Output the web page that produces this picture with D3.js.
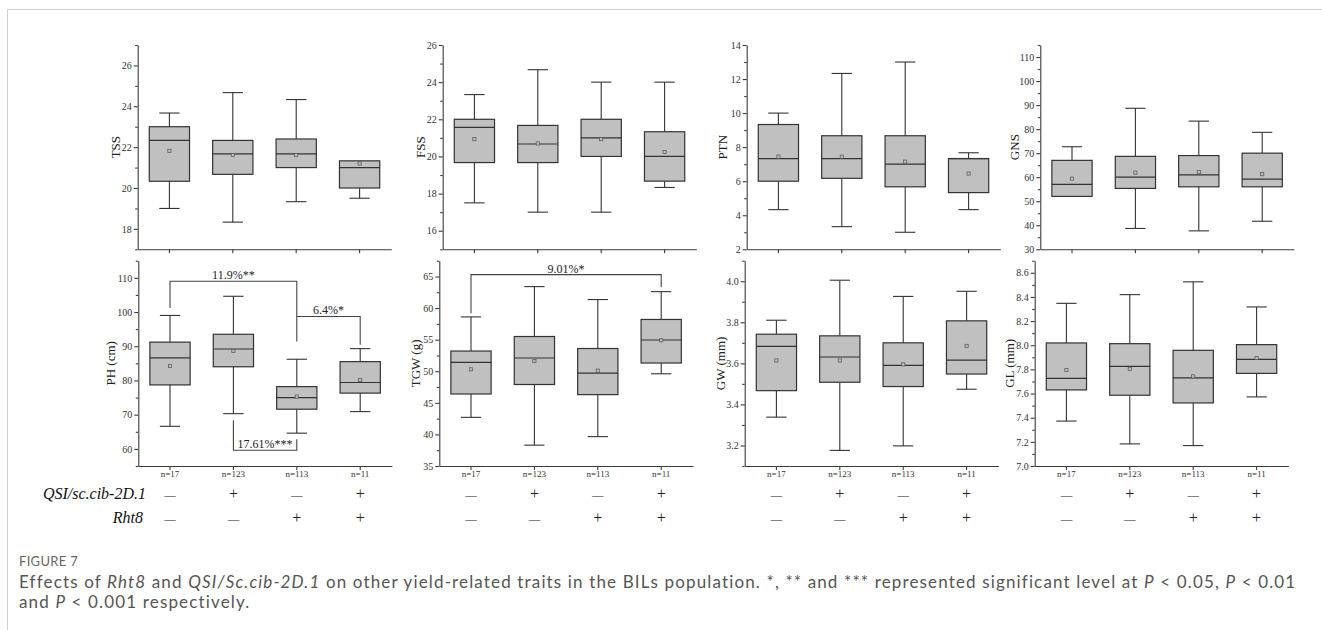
<!DOCTYPE html>
<html><head><meta charset="utf-8">
<script src="https://cdn.jsdelivr.net/npm/d3@7"></script>
<style>body{margin:0;background:#fff}</style>
</head><body>
<svg id="c" width="1322" height="630"></svg>
<script>
// ---------- DATA ----------
const groupLabels = ["n=17", "n=123", "n=113", "n=11"];
const qsiSigns = ["—", "+", "—", "+"];
const rht8Signs = ["—", "—", "+", "+"];
const traitNames = ["TSS", "FSS", "PTN", "GNS", "PH (cm)", "TGW (g)", "GW (mm)", "GL (mm)"];
// each box: [min, q1, median, q3, max, mean]
const TSS = [[19.0, 20.33, 22.33, 23.0, 23.67, 21.82], [18.33, 20.67, 21.67, 22.33, 24.67, 21.62], [19.33, 21.0, 21.67, 22.4, 24.33, 21.62], [19.5, 20.0, 21.0, 21.33, 21.33, 21.2]];
const FSS = [[17.5, 19.67, 21.57, 22.0, 23.33, 20.93], [17.0, 19.67, 20.67, 21.67, 24.67, 20.7], [17.0, 20.0, 21.0, 22.0, 24.0, 20.93], [18.33, 18.67, 20.0, 21.33, 24.0, 20.24]];
const PTN = [[4.33, 6.0, 7.33, 9.33, 10.0, 7.44], [3.33, 6.17, 7.33, 8.67, 12.33, 7.44], [3.0, 5.67, 7.0, 8.67, 13.0, 7.15], [4.33, 5.33, 7.33, 7.33, 7.67, 6.45]];
const GNS = [[52.0, 52.0, 57.0, 67.0, 72.67, 59.4], [38.67, 55.33, 60.0, 68.67, 88.67, 61.9], [37.67, 56.0, 61.0, 69.0, 83.33, 62.1], [41.67, 56.0, 59.2, 70.0, 78.67, 61.25]];
const PH = [[66.6, 78.7, 86.6, 91.2, 99.0, 84.2], [70.3, 84.0, 89.2, 93.5, 104.6, 88.6], [64.6, 71.6, 75.0, 78.2, 86.2, 75.3], [70.9, 76.3, 79.4, 85.5, 89.3, 80.1]];
const TGW = [[42.7, 46.4, 51.4, 53.2, 58.6, 50.3], [38.3, 47.9, 52.1, 55.5, 63.4, 51.6], [39.65, 46.3, 49.7, 53.6, 61.35, 50.1], [49.6, 51.3, 54.95, 58.2, 62.6, 54.9]];
const GW = [[3.338, 3.467, 3.683, 3.742, 3.81, 3.614], [3.176, 3.508, 3.631, 3.734, 4.005, 3.614], [3.198, 3.487, 3.59, 3.70, 3.926, 3.595], [3.474, 3.548, 3.616, 3.807, 3.951, 3.685]];
const GL = [[7.372, 7.63, 7.725, 8.019, 8.347, 7.794], [7.183, 7.586, 7.825, 8.013, 8.419, 7.805], [7.169, 7.522, 7.73, 7.958, 8.525, 7.742], [7.572, 7.767, 7.883, 8.005, 8.317, 7.894]];
const yDomains = [[17, 27], [15, 26], [2, 14], [30, 115], [55, 115], [35, 67.5], [3.1, 4.1], [7.0, 8.7]];
const majorSteps = [2, 2, 2, 10, 10, 5, 0.2, 0.2];
// significance brackets: [fromGroup, toGroup, lineValue, leftEnd, rightEnd, label]
const phBrackets = [[0, 2, 109, 101.2, 91.4, "11.9%**"], [2, 3, 98.7, 98.7, 90.4, "6.4%*"], [1, 2, 59.6, 68.4, 62.8, "17.61%***"]];
const tgwBrackets = [[0, 3, 65.3, 59.2, 63.3, "9.01%*"]];
// caption segments: [text, italic]
const captionLine1 = [["Effects of ", 0], ["Rht8", 1], [" and ", 0], ["QSI/Sc.cib-2D.1", 1], [" on other yield-related traits in the BILs population. *, ** and *** represented significant level at ", 0], ["P", 1], [" < 0.05, ", 0], ["P", 1], [" < 0.01", 0]];
const captionLine2 = [["and ", 0], ["P", 1], [" < 0.001 respectively.", 0]];

// ---------- LAYOUT ----------
const allData = [TSS, FSS, PTN, GNS, PH, TGW, GW, GL];
const brackets = [null, null, null, null, phBrackets, tgwBrackets, null, null];
const axisX = [137.7, 442.7, 746.7, 1040.3, 138.3, 439.3, 744.7, 1034.7];
const titleX = [115, 420, 722.7, 1014.7, 110.7, 415, 720, 1009.5];
const rowY = [[45, 249.3], [260.7, 466]];
const plotW = 253.6;
const signY = [499, 523];

const svg = d3.select("#c");
const serif = "'Liberation Serif','Times New Roman',serif";

// frame
svg.append("line").attr("x1", 7).attr("x2", 1322).attr("y1", 9.5).attr("y2", 9.5).attr("stroke", "#d0d0d0").attr("stroke-width", 1);
svg.append("line").attr("x1", 7.5).attr("x2", 7.5).attr("y1", 9).attr("y2", 630).attr("stroke", "#d0d0d0").attr("stroke-width", 1);

allData.forEach((data, i) => {
  const row = i < 4 ? 0 : 1;
  const [top, bottom] = rowY[row];
  const x0 = axisX[i];
  const dom = yDomains[i];
  const step = majorSteps[i];
  const y = d3.scaleLinear().domain(dom).range([bottom, top]);
  const x = d3.scaleBand().domain(groupLabels).range([x0, x0 + plotW]);
  const g = svg.append("g");
  const dec = step < 1 ? 1 : 0;

  const majors = [], minors = [];
  const eps = 1e-6;
  const startM = Math.ceil((dom[0] - eps) / step) * step;
  for (let v = startM; v <= dom[1] + eps; v += step) majors.push(+v.toFixed(3));
  const ms = step / 2;
  const startm = Math.ceil((dom[0] - eps) / ms) * ms;
  for (let v = startm; v <= dom[1] + eps; v += ms) {
    const vv = +v.toFixed(3);
    if (!majors.some(m => Math.abs(m - vv) < eps)) minors.push(vv);
  }

  const yAx = g.append("g").attr("transform", `translate(${x0},0)`)
    .call(d3.axisLeft(y).tickValues(majors).tickSize(4).tickSizeOuter(0).tickPadding(2)
      .tickFormat(d => d.toFixed(dec)));
  const yMin = g.append("g").attr("transform", `translate(${x0},0)`)
    .call(d3.axisLeft(y).tickValues(minors).tickSize(2.5).tickSizeOuter(0).tickFormat(""));
  yMin.select(".domain").remove();

  const xAx = g.append("g").attr("transform", `translate(0,${bottom})`)
    .call(d3.axisBottom(x).tickSize(4).tickSizeOuter(0).tickPadding(1)
      .tickFormat(row === 1 ? (d => d) : ""));

  [yAx, yMin, xAx].forEach(a => {
    a.selectAll("path,line").attr("stroke", "#3a3a3a").attr("stroke-width", 1.1);
    a.selectAll("text").attr("fill", "#333").attr("font-family", serif).attr("font-size", 10);
  });
  xAx.selectAll("text").attr("font-size", 9);

  g.append("text").attr("transform", `translate(${titleX[i]},${(top + bottom) / 2}) rotate(-90)`)
    .attr("text-anchor", "middle").attr("dominant-baseline", "central")
    .attr("font-family", serif).attr("font-size", 13).attr("fill", "#222").text(traitNames[i]);

  const bw = x.bandwidth() * 0.635, cw = x.bandwidth() * 0.32;
  data.forEach((d, k) => {
    const cx = x(groupLabels[k]) + x.bandwidth() / 2;
    const [mn, q1, md, q3, mx, mean] = d;
    const bx = g.append("g");
    bx.append("line").attr("x1", cx).attr("x2", cx).attr("y1", y(q3)).attr("y2", y(mx)).attr("stroke", "#333").attr("stroke-width", 1.1);
    bx.append("line").attr("x1", cx).attr("x2", cx).attr("y1", y(q1)).attr("y2", y(mn)).attr("stroke", "#333").attr("stroke-width", 1.1);
    if (mx > q3) bx.append("line").attr("x1", cx - cw / 2).attr("x2", cx + cw / 2).attr("y1", y(mx)).attr("y2", y(mx)).attr("stroke", "#333").attr("stroke-width", 1.1);
    if (mn < q1) bx.append("line").attr("x1", cx - cw / 2).attr("x2", cx + cw / 2).attr("y1", y(mn)).attr("y2", y(mn)).attr("stroke", "#333").attr("stroke-width", 1.1);
    bx.append("rect").attr("x", cx - bw / 2).attr("width", bw).attr("y", y(q3)).attr("height", y(q1) - y(q3))
      .attr("fill", "#c0c0c0").attr("stroke", "#333").attr("stroke-width", 1.2);
    bx.append("line").attr("x1", cx - bw / 2).attr("x2", cx + bw / 2).attr("y1", y(md)).attr("y2", y(md)).attr("stroke", "#333").attr("stroke-width", 1.2);
    bx.append("rect").attr("x", cx - 1.6).attr("y", y(mean) - 1.6).attr("width", 3.2).attr("height", 3.2)
      .attr("fill", "#bbb").attr("stroke", "#555").attr("stroke-width", 0.7);
  });

  if (brackets[i]) {
    brackets[i].forEach(b => {
      const [a, c, lv, le, re, lab] = b;
      const xa = x(groupLabels[a]) + x.bandwidth() / 2, xc = x(groupLabels[c]) + x.bandwidth() / 2;
      const path = d3.path();
      path.moveTo(xa, y(le)); path.lineTo(xa, y(lv)); path.lineTo(xc, y(lv)); path.lineTo(xc, y(re));
      g.append("path").attr("d", path.toString()).attr("fill", "none").attr("stroke", "#444").attr("stroke-width", 1.1);
      g.append("text").attr("x", (xa + xc) / 2).attr("y", y(lv) - 2).attr("text-anchor", "middle")
        .attr("font-family", serif).attr("font-size", 12).attr("fill", "#222").text(lab);
    });
  }

  if (row === 1) {
    [qsiSigns, rht8Signs].forEach((signs, r) => {
      signs.forEach((s, k) => {
        const cx = x(groupLabels[k]) + x.bandwidth() / 2;
        g.append("text").attr("x", cx).attr("y", signY[r]).attr("text-anchor", "middle")
          .attr("font-family", serif).attr("font-size", s === "+" ? 16 : 11.5).attr("fill", "#222").text(s);
      });
    });
  }
});

svg.append("text").attr("x", 146).attr("y", signY[0]).attr("text-anchor", "end").attr("font-family", serif)
  .attr("font-style", "italic").attr("font-size", 16).attr("fill", "#111").text("QSI/sc.cib-2D.1");
svg.append("text").attr("x", 143).attr("y", signY[1]).attr("text-anchor", "end").attr("font-family", serif)
  .attr("font-style", "italic").attr("font-size", 16).attr("fill", "#111").text("Rht8");

// caption: each segment is its own text element, placed by measured width
const sans = "Lato,'Open Sans',sans-serif";
svg.append("text").attr("x", 19).attr("y", 566).attr("font-family", sans).attr("font-size", 13)
  .attr("fill", "#666").attr("letter-spacing", 0.3).text("FIGURE 7");
function measure(segs, fs) {
  let w = 0;
  segs.forEach(([t, it]) => {
    const n = svg.append("text").attr("font-family", sans).attr("font-size", fs)
      .attr("font-style", it ? "italic" : "normal").style("white-space", "pre").text(t);
    w += n.node().getComputedTextLength(); n.remove();
  });
  return w;
}
const fs = Math.min(17, 15.5 * (1290 - 19) / measure(captionLine1, 15.5));
const ls = (1290 - 19 - measure(captionLine1, fs)) / 150;
function drawLine(segs, yPos) {
  let xPos = 19;
  segs.forEach(([t, it]) => {
    const n = svg.append("text").attr("x", xPos).attr("y", yPos).attr("font-family", sans).attr("font-size", fs)
      .attr("letter-spacing", ls).attr("font-style", it ? "italic" : "normal").attr("fill", "#555").style("white-space", "pre").text(t);
    xPos += n.node().getComputedTextLength();
  });
}
drawLine(captionLine1, 588);
drawLine(captionLine2, 608);
</script>
</body></html>
